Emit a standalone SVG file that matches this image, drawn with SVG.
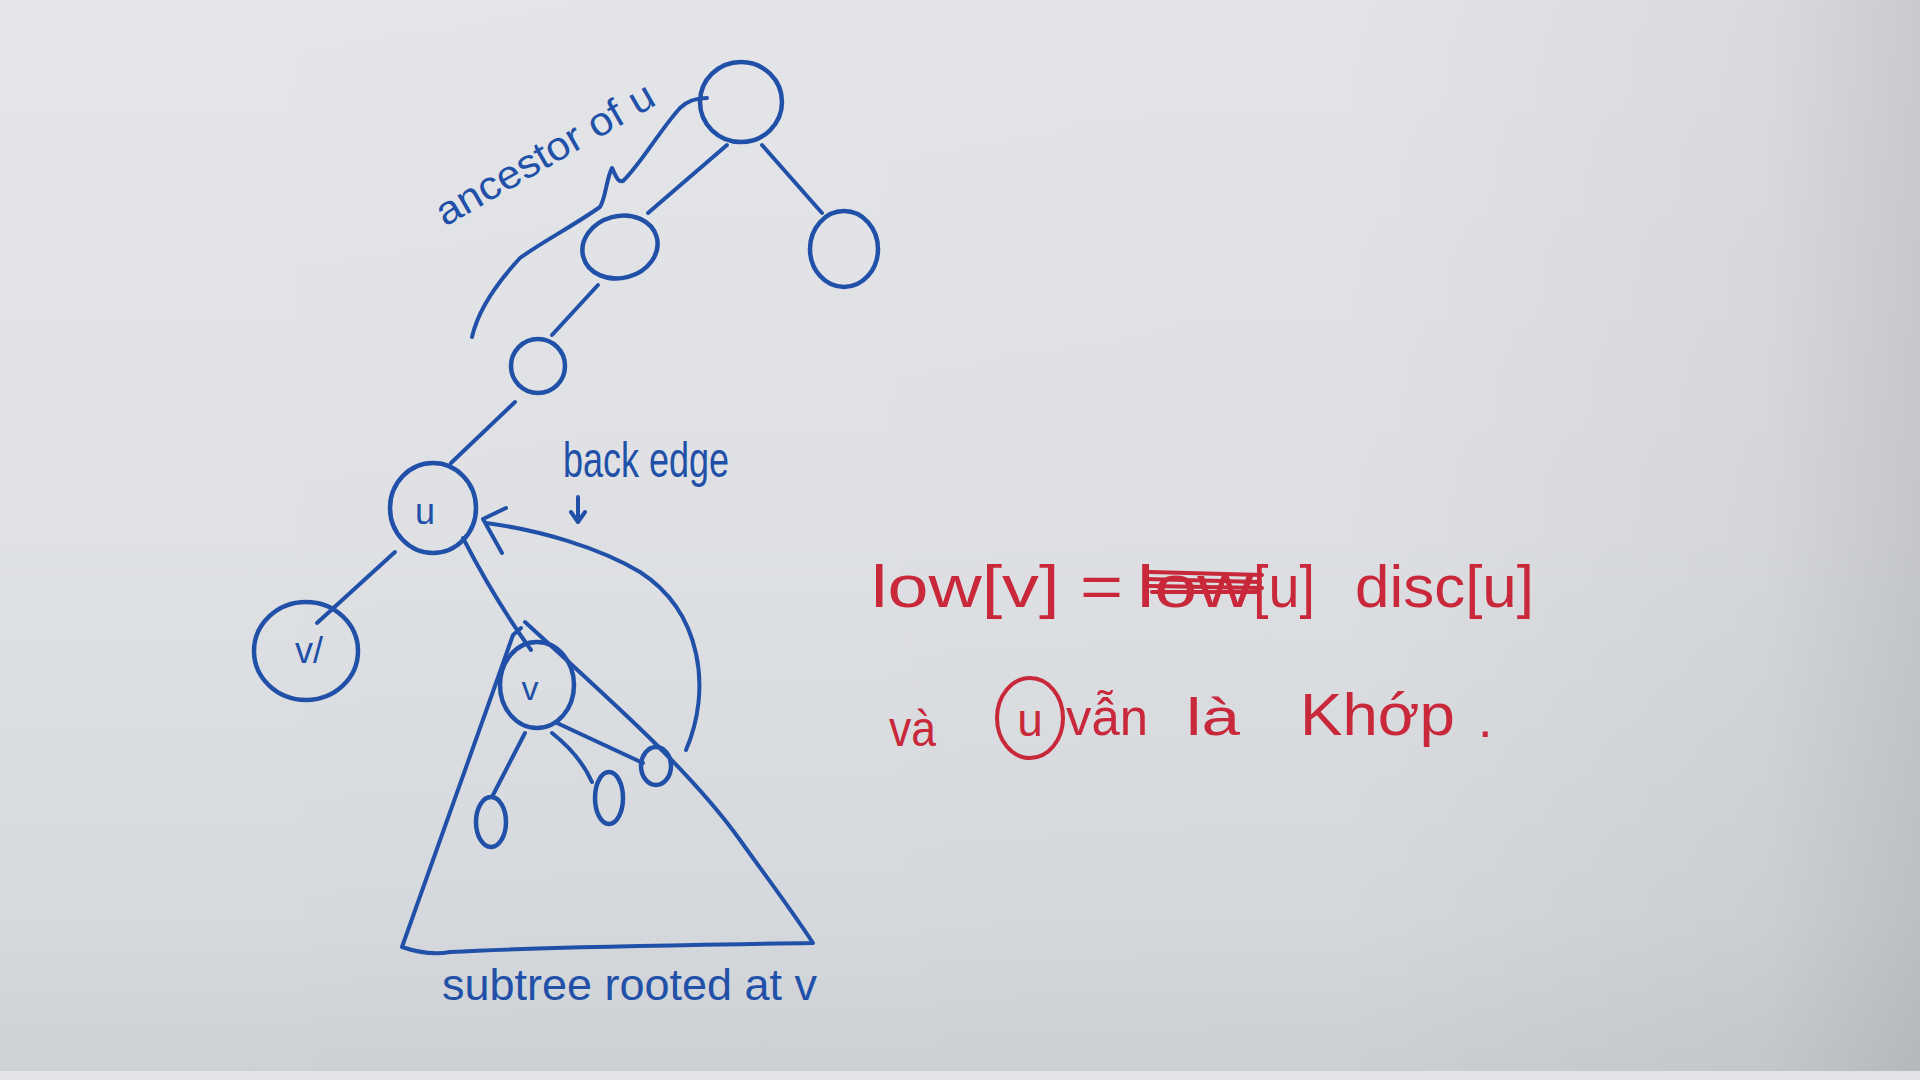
<svg xmlns="http://www.w3.org/2000/svg" width="1920" height="1080" viewBox="0 0 1920 1080">
<defs>
<linearGradient id="bgv" x1="0" y1="0" x2="0" y2="1">
<stop offset="0" stop-color="#e4e6ea"/>
<stop offset="0.5" stop-color="#dfe1e5"/>
<stop offset="0.85" stop-color="#d6d9dd"/>
<stop offset="1" stop-color="#cdd0d4"/>
</linearGradient>
<linearGradient id="bgh" x1="0" y1="0" x2="1" y2="0">
<stop offset="0" stop-color="#000" stop-opacity="0"/>
<stop offset="0.7" stop-color="#000" stop-opacity="0.01"/>
<stop offset="0.92" stop-color="#000" stop-opacity="0.05"/>
<stop offset="1" stop-color="#000" stop-opacity="0.12"/>
</linearGradient>
</defs>
<style>
.n{fill:none;stroke:#2150a8;stroke-width:4.5}
.e{fill:none;stroke:#2150a8;stroke-width:4;stroke-linecap:round;stroke-linejoin:round}
.bt{font-family:"Liberation Sans",Arial,sans-serif;fill:#2150a8}
.rt{font-family:"Liberation Sans",Arial,sans-serif;fill:#c8283a}
.rs{fill:none;stroke:#c8283a;stroke-width:4;stroke-linecap:round}
</style>
<g id="background">
<rect x="0" y="0" width="1920" height="1080" fill="url(#bgv)"/>
<rect x="0" y="0" width="1920" height="1080" fill="url(#bgh)"/>
<rect x="0" y="1071" width="1920" height="9" fill="#e2e3e7"/>
</g>
<g id="connectors">
<path class="e" d="M727,145 L648,213"/>
<path class="e" d="M762,145 L822,213"/>
<path class="e" d="M598,285 L552,335"/>
<path class="e" d="M515,402 L451,463"/>
<path class="e" d="M395,552 L317,623"/>
<path class="e" d="M463,538 Q495,600 531,650"/>
<path class="e" d="M525,733 L493,795"/>
<path class="e" d="M552,733 Q580,755 592,782"/>
<path class="e" d="M557,723 L643,763"/>
<path id="back-edge" class="e" d="M686,750 C712,690 702,612 640,572 C600,548 540,530 486,523"/>
<path class="e" d="M506,508 L483,519 L502,553"/>
<path id="ancestor-path" class="e" d="M472,337 C478,310 495,285 520,258 C545,240 570,228 600,207 C606,197 606,180 612,168 C616,176 618,183 623,181 C640,165 660,130 680,108 C688,100 700,98 707,98"/>
<path class="e" d="M578,497 L578,521 M571,512 L578,522 L585,512"/>
</g>
<g id="subtree-triangle">
<path class="e" d="M525,622 C610,700 690,770 740,840 C765,875 790,908 813,943 C700,945 560,946 450,952 Q428,956 402,947 L490,700 L513,635 L521,628"/>
</g>
<g id="node-root"><ellipse class="n" cx="741" cy="102" rx="41" ry="40"/></g>
<g id="node-right"><ellipse class="n" cx="844" cy="249" rx="34" ry="38"/></g>
<g id="node-left"><ellipse class="n" cx="620" cy="247" rx="38" ry="31" transform="rotate(-15 620 247)"/></g>
<g id="node-mid"><ellipse class="n" cx="538" cy="366" rx="27" ry="27"/></g>
<g id="node-u"><ellipse class="n" cx="433" cy="508" rx="43" ry="45"/><text class="bt" x="425" y="524" font-size="36" text-anchor="middle">u</text></g>
<g id="node-v2"><ellipse class="n" cx="306" cy="651" rx="52" ry="49"/><text class="bt" x="309" y="663" font-size="36" text-anchor="middle">v/</text></g>
<g id="node-v"><ellipse class="n" cx="537" cy="685" rx="37" ry="43"/><text class="bt" x="530" y="700" font-size="34" text-anchor="middle">v</text></g>
<g id="node-c1"><ellipse class="n" cx="491" cy="822" rx="15" ry="25"/></g>
<g id="node-c2"><ellipse class="n" cx="609" cy="798" rx="14" ry="26"/></g>
<g id="node-c3"><ellipse class="n" cx="656" cy="766" rx="15" ry="19"/></g>
<g id="labels">
<text class="bt" font-size="40" textLength="246" lengthAdjust="spacingAndGlyphs" transform="translate(445,227) rotate(-30)">ancestor of u</text>
<text class="bt" x="563" y="477" font-size="50" textLength="166" lengthAdjust="spacingAndGlyphs">back edge</text>
<text class="bt" x="442" y="1000" font-size="44" textLength="375" lengthAdjust="spacingAndGlyphs">subtree rooted at v</text>
</g>
<g id="formula">
<text class="rt" x="871" y="607" font-size="60" textLength="252" lengthAdjust="spacingAndGlyphs">low[v] =</text>
<text class="rt" x="1137" y="607" font-size="60" textLength="116" lengthAdjust="spacingAndGlyphs">low</text>
<path class="rs" d="M1150,572 L1262,575 M1146,579 L1260,582 M1150,586 L1262,588 M1152,592 L1258,592"/>
<text class="rt" x="1253" y="607" font-size="60" textLength="62" lengthAdjust="spacingAndGlyphs">[u]</text>
<text class="rt" x="1355" y="607" font-size="60" textLength="179" lengthAdjust="spacingAndGlyphs">disc[u]</text>
</g>
<g id="note">
<text class="rt" x="889" y="746" font-size="50" textLength="47" lengthAdjust="spacingAndGlyphs">và</text>
<ellipse cx="1030" cy="718" rx="33" ry="40" fill="none" stroke="#c8283a" stroke-width="4"/>
<text class="rt" x="1030" y="736" font-size="46" text-anchor="middle">u</text>
<text class="rt" x="1066" y="735" font-size="52" textLength="82" lengthAdjust="spacingAndGlyphs">vẫn</text>
<text class="rt" x="1186" y="735" font-size="52" textLength="54" lengthAdjust="spacingAndGlyphs">là</text>
<text class="rt" x="1300" y="735" font-size="60" textLength="155" lengthAdjust="spacingAndGlyphs">Khớp</text>
<text class="rt" x="1478" y="737" font-size="52">.</text>
</g>
</svg>
